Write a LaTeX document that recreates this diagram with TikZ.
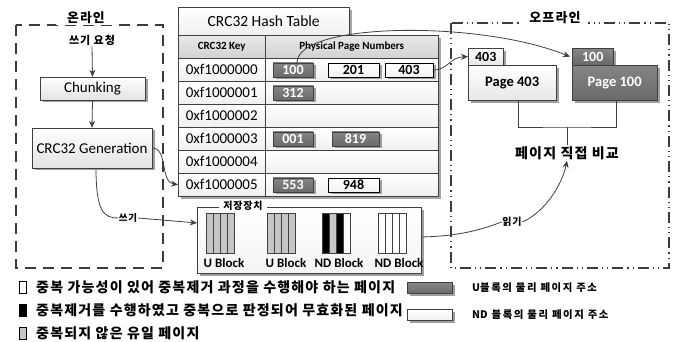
\documentclass[tikz,border=0pt]{standalone}
\usepackage{fontspec}
\setmainfont{Carlito}
\newfontfamily\kr{Noto Sans CJK KR}[LetterSpace=8.5]
\newfontfamily\krx{Noto Sans CJK KR}[LetterSpace=15]
\newfontfamily\krn{Noto Sans CJK KR}
\usetikzlibrary{arrows.meta,shadows,calc}

\definecolor{edge}{HTML}{404040}
\definecolor{darkcell}{HTML}{6A6A6A}
\definecolor{darkcelltop}{HTML}{858585}
\definecolor{framegray}{HTML}{3C3C3C}

\tikzset{
  rm/.style={font=\fontsize{#1}{#1}\selectfont},
  bf/.style={font=\bfseries\fontsize{#1}{#1}\selectfont},
  krl/.style={font=\kr\bfseries\fontsize{#1}{#1}\selectfont,inner sep=1pt},
  krw/.style={font=\krx\bfseries\fontsize{#1}{#1}\selectfont,inner sep=1pt},
  shade/.style={drop shadow={shadow xshift=2.5pt,shadow yshift=-2.5pt,fill=gray!75,opacity=1}},
  procbox/.style={draw=edge,top color=white,bottom color=gray!22,shade,inner sep=0pt,rm=15},
  tcell/.style={draw=edge,top color=white,bottom color=gray!12,inner sep=0pt,anchor=north west,minimum height=23pt},
  thead/.style={draw=edge,top color=gray!18,bottom color=gray!35,inner sep=0pt,anchor=north west,minimum height=23pt,bf=11},
  uaddr/.style={draw=edge,top color=darkcelltop,bottom color=darkcell,text=white,bf=14,inner sep=0pt,minimum height=14pt,shade},
  ndaddr/.style={draw=black,top color=white,bottom color=gray!10,text=black,bf=14,inner sep=0pt,minimum height=14pt,shade},
  strip/.style={draw=edge,line width=0.6pt,minimum width=7pt,minimum height=40pt,inner sep=0pt,anchor=north west},
  blocklabel/.style={bf=13,inner sep=0pt},
  conn/.style={draw=edge,line width=0.8pt},
  arr/.style={conn,-{Stealth[length=7pt,width=6pt]}},
  legsym/.style={draw=black,line width=0.6pt,minimum width=7pt,minimum height=12pt,inner sep=0pt},
}

\begin{document}
\begin{tikzpicture}[x=1pt,y=-1pt]
\useasboundingbox[fill=white] (0,0) rectangle (678,342);

% ---------- online region ----------
\draw[framegray,line width=1.5pt,dash pattern=on 11pt off 7pt] (16,25) rectangle (163,268);
\node[krl=12.8,fill=white,inner xsep=11pt] (online) at (86,18) {온라인};
\node[krl=11] (req) at (92,40) {쓰기 요청};
\node[procbox,minimum width=105pt,minimum height=23pt] (chunk) at (92.5,88.5) {Chunking};
\node[procbox,minimum width=120pt,minimum height=40pt] (gen) at (92,148) {CRC32 Generation};
\draw[arr] (req.south) -- (chunk.north);
\draw[arr] (chunk.south) -- (gen.north);

% ---------- hash table ----------
\fill[gray!70] (181,10) rectangle (352,38);
\fill[gray!70] (181,38) rectangle (441,199);
\node[tcell,minimum width=171pt,minimum height=28pt,rm=15.5] (ttitle) at (178,7) {CRC32 Hash Table};
\node[thead,minimum width=87pt] (hkey) at (178,35) {CRC32 Key};
\node[thead,minimum width=173pt] (hval) at (265,35) {Physical Page Numbers};
\foreach \i/\k in {0/0xf1000000,1/0xf1000001,2/0xf1000002,3/0xf1000003,4/0xf1000004,5/0xf1000005}{
  \node[tcell,minimum width=87pt,rm=15] (k\i) at (178,{58+23*\i}) {\k};
  \node[tcell,minimum width=173pt] (v\i) at (265,{58+23*\i}) {};
}
% page address cells
\node[uaddr,minimum width=40pt] (a100) at (293,70) {100};
\node[ndaddr,minimum width=51pt] (a201) at (353.5,70) {201};
\node[ndaddr,minimum width=48pt] (a403) at (409,70) {403};
\node[uaddr,minimum width=40pt] (a312) at (293,93) {312};
\node[uaddr,minimum width=40pt] (a001) at (293,139) {001};
\node[uaddr,minimum width=47pt] (a819) at (355.5,139) {819};
\node[uaddr,minimum width=40pt] (a553) at (293,185) {553};
\node[ndaddr,minimum width=51pt] (a948) at (353.5,185) {948};

% ---------- storage ----------
\node[draw=edge,top color=white,bottom color=gray!8,minimum width=224pt,minimum height=66pt,anchor=north west,inner sep=0pt,shade] (stor) at (197,207) {};
\node[krl=10,fill=white,inner xsep=4pt] (storlab) at (243,206) {저장장치};
% U Block 1
\foreach \j in {0,1,2,3}{\node[strip,fill=gray!45] (ua\j) at ({206+7*\j},213) {};}
% U Block 2
\foreach \j in {0,1,2,3}{\node[strip,fill=gray!45] (ub\j) at ({267+7*\j},213) {};}
% ND Block 1
\node[strip,fill=black] (na0) at (322,213) {};
\node[strip,fill=gray!45] (na1) at (329,213) {};
\node[strip,fill=black] (na2) at (336,213) {};
\node[strip,fill=white] (na3) at (343,213) {};
% ND Block 2
\foreach \j in {0,1,2,3}{\node[strip,fill=white] (nb\j) at ({378+7*\j},213) {};}
\node[blocklabel] (lua) at (224,263) {U Block};
\node[blocklabel] (lub) at (286,263) {U Block};
\node[blocklabel] (lna) at (339,263) {ND Block};
\node[blocklabel] (lnb) at (399,263) {ND Block};

% ---------- offline region ----------
\draw[framegray,line width=1.5pt,dash pattern=on 11pt off 4pt on 1.2pt off 4pt on 1.2pt off 4pt] (451,23) rectangle (669,268);
\node[krl=13,fill=white,inner xsep=7pt] (offline) at (555,18) {오프라인};
% page 403
\node[draw=edge,top color=white,bottom color=gray!18,minimum width=35pt,minimum height=17pt,anchor=north west,inner sep=0pt,bf=14,shade] (t403) at (468,48) {403};
\node[draw=edge,top color=white,bottom color=gray!18,minimum width=88pt,minimum height=35pt,anchor=north west,inner sep=0pt,bf=14.5,shade] (p403) at (468,65) {Page 403};
% page 100
\node[draw=edge,top color=darkcelltop,bottom color=darkcell,text=white,minimum width=41pt,minimum height=17pt,anchor=north west,inner sep=0pt,bf=14,shade] (t100) at (572,48) {100};
\node[draw=edge,top color=darkcelltop,bottom color=darkcell,text=white,minimum width=85pt,minimum height=35pt,anchor=north west,inner sep=0pt,bf=14.5,shade] (p100) at (572,65) {Page 100};
\node[krl=14] (cmp) at (567,153) {페이지 직접 비교};
\coordinate (join) at (567,127);
\draw[conn] ([xshift=6pt]p403.south) |- (join) -| ([xshift=2pt]p100.south);
\draw[conn] (join) -- (cmp.north);

% ---------- connectors ----------
\draw[arr] (gen.east) .. controls (168,148) and (160,182) .. (k5.west);
\node[krl=9.5,inner sep=0.5pt] (wlab) at (128,218) {쓰기};
\draw[conn] ([xshift=4pt]gen.south) .. controls (96,212) and (104,218) .. (wlab.west);
\draw[arr] (wlab.east) .. controls (165,220) .. (stor.west |- 0,223);
\node[krl=10,inner sep=0.5pt] (rlab) at (512,222) {읽기};
\draw[conn] (stor.east |- 0,237) .. controls (460,236) and (480,230) .. (rlab.west);
\draw[arr] (rlab.east) .. controls (545,212) and (562,185) .. (cmp.south);
\draw[arr] ([xshift=4pt]a100.north) .. controls (297,22) and (480,20) .. ([xshift=-2pt]t100.west);
\draw[arr] (a403.east) .. controls (448,70) and (450,57) .. (t403.west);

% ---------- legend ----------
\node[legsym,fill=white] (s1) at (23,287) {};
\node[legsym,fill=black] (s2) at (23,310) {};
\node[legsym,fill=gray!45] (s3) at (23,333) {};
\node[krl=14,anchor=west] (l1) at (35,287) {중복 가능성이 있어 중복제거 과정을 수행해야 하는 페이지};
\node[krl=14,anchor=west] (l2) at (35,310) {중복제거를 수행하였고 중복으로 판정되어 무효화된 페이지};
\node[krl=14,anchor=west] (l3) at (35,333) {중복되지 않은 유일 페이지};
\node[draw=edge,top color=darkcelltop,bottom color=darkcell,minimum width=45pt,minimum height=11pt,inner sep=0pt,shade] (k1) at (429.5,288) {};
\node[draw=edge,top color=white,bottom color=gray!12,minimum width=45pt,minimum height=11pt,inner sep=0pt,shade] (k2) at (429.5,314.5) {};
\node[krw=10.4,anchor=west] (kl1) at (471,288) {{\krn U}블록의 물리 페이지 주소};
\node[krw=10.4,anchor=west] (kl2) at (471,315) {{\krn ND} 블록의 물리 페이지 주소};
\end{tikzpicture}
\end{document}
